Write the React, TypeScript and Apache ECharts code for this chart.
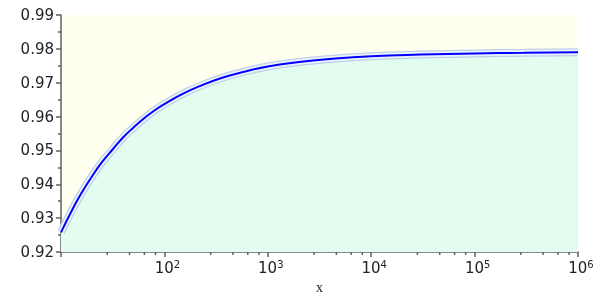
import React, { useEffect, useRef } from "react";
import * as echarts from "echarts";

const xValues = [10, 13, 16, 20, 25, 32, 40, 50, 65, 80, 100, 150, 220, 350, 550, 1000, 2000, 4000, 10000, 30000, 100000, 300000, 1000000];
const yValues = [0.9258, 0.9328, 0.9377, 0.9424, 0.9466, 0.9505, 0.9539, 0.9567, 0.9597, 0.9618, 0.9637, 0.9667, 0.9690, 0.9713, 0.9730, 0.9748, 0.9761, 0.9770, 0.9778, 0.9783, 0.97865, 0.97885, 0.9790];
const minorXTicks = [28, 46, 64, 82, 280, 460, 640, 820, 2800, 4600, 6400, 8200, 28000, 46000, 64000, 82000, 280000, 460000, 640000, 820000];
const yTickLabels = ["0.92", "0.93", "0.94", "0.95", "0.96", "0.97", "0.98", "0.99"];

const X_MIN = 10;
const X_MAX = 1000000;
const Y_MIN = 0.92;
const Y_MAX = 0.99;

const AXIS_COLOR = "#606060";
const TEXT_COLOR = "#222";
const SANS = "DejaVu Sans";

export default function App() {
  const ref = useRef<HTMLDivElement>(null);
  useEffect(() => {
    if (!ref.current) return;
    const chart = echarts.init(ref.current, undefined, { renderer: "svg" });
    const curve = xValues.map((x, i) => [x, yValues[i]]);
    const lineBase = {
      type: "line",
      data: curve,
      smooth: 0.5,
      showSymbol: false,
      silent: true,
    };
    chart.setOption({
      animation: false,
      grid: {
        left: 61,
        right: 22,
        top: 15,
        bottom: 48,
        show: true,
        backgroundColor: "#fffff0",
        borderWidth: 0,
      },
      xAxis: {
        type: "log",
        logBase: 10,
        min: X_MIN,
        max: X_MAX,
        name: "x",
        nameLocation: "middle",
        nameGap: 28,
        nameTextStyle: { fontFamily: "Liberation Serif", fontSize: 14, color: TEXT_COLOR },
        axisLine: { show: true, lineStyle: { color: AXIS_COLOR, width: 1.5 } },
        axisTick: { show: true, length: 5, lineStyle: { color: AXIS_COLOR, width: 1.5 } },
        splitLine: { show: false },
        minorTick: { show: false },
        axisLabel: {
          margin: 7,
          formatter: (v: number) => {
            const e = Math.round(Math.log10(v));
            if (e <= 1) return "";
            return `{b|10}{s|${e}}`;
          },
          rich: {
            b: { fontFamily: SANS, fontSize: 15, color: TEXT_COLOR, padding: [0, 0, 0, 6], lineHeight: 18 },
            s: { fontFamily: SANS, fontSize: 10, color: TEXT_COLOR, verticalAlign: "top", lineHeight: 18, padding: [0, 0, 6, 0] },
          },
        },
      },
      yAxis: {
        type: "value",
        min: Y_MIN,
        max: Y_MAX,
        interval: 0.01,
        axisLine: { show: true, lineStyle: { color: AXIS_COLOR, width: 1.5 } },
        axisTick: { show: true, length: 5, lineStyle: { color: AXIS_COLOR, width: 1.5 } },
        minorTick: { show: true, splitNumber: 2, length: 3, lineStyle: { color: AXIS_COLOR, width: 1.5 } },
        splitLine: { show: false },
        minorSplitLine: { show: false },
        axisLabel: {
          margin: 7,
          fontFamily: SANS,
          fontSize: 15,
          color: TEXT_COLOR,
          formatter: (v: number) => {
            const idx = Math.round((v - Y_MIN) / 0.01);
            return yTickLabels[idx] ?? v.toFixed(2);
          },
        },
      },
      series: [
        {
          ...lineBase,
          lineStyle: { width: 0, opacity: 0 },
          areaStyle: { color: "#e2fdf0", opacity: 1, origin: "start" },
          z: 1,
        },
        {
          ...lineBase,
          lineStyle: { width: 8, color: "#bcd0e8" },
          z: 2,
        },
        {
          ...lineBase,
          lineStyle: { width: 5.5, color: "#eef3fb" },
          z: 3,
        },
        {
          ...lineBase,
          lineStyle: { width: 2, color: "#0000ff" },
          z: 4,
        },
        {
          type: "custom",
          data: minorXTicks.map((v) => [v, Y_MIN]),
          encode: { x: 0, y: 1 },
          clip: false,
          silent: true,
          z: 5,
          renderItem: (params: any, api: any) => {
            const p = api.coord([api.value(0), Y_MIN]);
            return {
              type: "line",
              shape: { x1: p[0], y1: p[1], x2: p[0], y2: p[1] + 3 },
              style: { stroke: AXIS_COLOR, lineWidth: 1.5 },
            };
          },
        },
      ],
    });
    return () => chart.dispose();
  }, []);
  return <div ref={ref} style={{ position: "fixed", left: 0, top: 0, width: 600, height: 300 }} />;
}
